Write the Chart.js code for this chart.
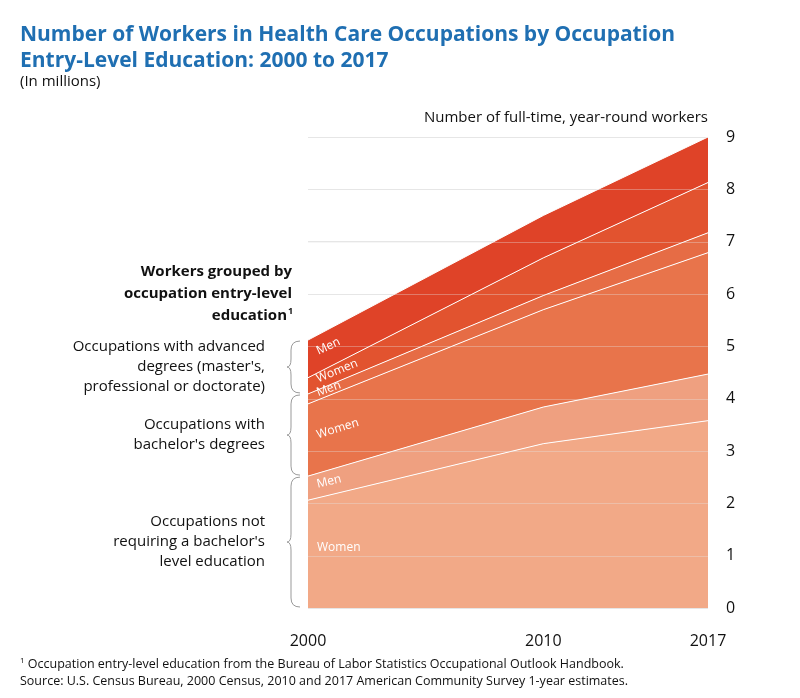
<!DOCTYPE html>
<html><head><meta charset="utf-8">
<script src="https://cdn.jsdelivr.net/npm/chart.js@4/dist/chart.umd.min.js"></script>
<style>
body{margin:0;background:#fff;font-family:"Open Sans","Liberation Sans",sans-serif;}
#wrap{position:relative;width:800px;height:698px;}
canvas{position:absolute;left:0;top:0;}
.t{position:absolute;color:#111;white-space:nowrap;}
</style></head><body>
<div id="wrap">
<canvas id="c" width="800" height="698"></canvas>
<div class="t" style="left:20px;top:20px;font-size:21px;font-weight:bold;color:#1f6fb2;line-height:26px;">Number of Workers in Health Care Occupations by Occupation<br>Entry-Level Education: 2000 to 2017</div>
<div class="t" style="left:20px;top:70px;font-size:15px;">(In millions)</div>
<div class="t" style="right:92px;top:106px;font-size:15px;">Number of full-time, year-round workers</div>
<div class="t" style="left:20px;top:651px;font-size:12.5px;line-height:17px;"><sup style="font-size:8px">1</sup> Occupation entry-level education from the Bureau of Labor Statistics Occupational Outlook Handbook.<br>Source: U.S. Census Bureau, 2000 Census, 2010 and 2017 American Community Survey 1-year estimates.</div>
</div>
<script>
const years=[2000,2010,2017];
const nbWomen=[2.06,3.14,3.58];
const nbMen=[0.46,0.70,0.89];
const baWomen=[1.38,1.86,2.32];
const baMen=[0.19,0.27,0.38];
const adWomen=[0.31,0.72,0.96];
const adMen=[0.72,0.81,0.87];
const yTicks=[0,1,2,3,4,5,6,7,8,9];
const series=[
 {k:'nbW',d:nbWomen,c:'#f2a987',l:'Women'},
 {k:'nbM',d:nbMen,c:'#efa080',l:'Men'},
 {k:'baW',d:baWomen,c:'#e8744b',l:'Women'},
 {k:'baM',d:baMen,c:'#e66c45',l:'Men'},
 {k:'adW',d:adWomen,c:'#e2532f',l:'Women'},
 {k:'adM',d:adMen,c:'#df4328',l:'Men'}];
const datasets=series.map((s,i)=>({label:s.k,data:s.d.map((v,j)=>({x:years[j],y:v})),backgroundColor:s.c,borderColor:'#fff',borderWidth:1,fill:i===0?'origin':'-1',pointRadius:0,tension:0}));
function cum(i,j){let t=0;for(let k=0;k<=i;k++)t+=series[k].d[j];return t;}
const deco={id:'deco',afterDatasetsDraw(ch){
 const c=ch.ctx,x=ch.scales.x,y=ch.scales.y;
 // gridlines over
 c.save();c.strokeStyle='rgba(230,230,230,0.35)';c.lineWidth=1;
 yTicks.forEach(v=>{const py=Math.round(y.getPixelForValue(v))+0.5;c.beginPath();c.moveTo(ch.chartArea.left,py);c.lineTo(ch.chartArea.right,py);c.stroke();});
 // labels in bands
 c.fillStyle='#fff';c.font='12px "Open Sans",sans-serif';c.textBaseline='middle';
 const xl=x.getPixelForValue(2000)+9;
 series.forEach((s,i)=>{
  const lo=i?cum(i-1,0):0,hi=cum(i,0);
  const lo1=i?cum(i-1,1):0,hi1=cum(i,1);
  const f=0.06;const mid=((lo+hi)/2)*(1-f)+((lo1+hi1)/2)*f;
  let py=y.getPixelForValue(mid);
  if(i===0)py=548;
  const slope=(y.getPixelForValue((lo1+hi1)/2)-y.getPixelForValue((lo+hi)/2))/(x.getPixelForValue(2010)-x.getPixelForValue(2000));
  c.save();c.translate(xl,py);c.rotate(i===0?0:Math.atan(slope)*0.9);c.fillText(s.l,0,0);c.restore();
 });
 // left annotations
 c.fillStyle='#111';c.textAlign='right';c.textBaseline='middle';
 c.font='bold 15px "Open Sans",sans-serif';
 [['Workers grouped by',272],['occupation entry-level',294],['education',316]].forEach(a=>c.fillText(a[0],a[0]==='education'?287:292,a[1]));
 c.font='bold 9px "Open Sans",sans-serif';c.textAlign='left';c.fillText('1',288,311);
 c.textAlign='right';c.font='15px "Open Sans",sans-serif';
 const groups=[[[ 'Occupations with advanced','degrees (master\'s,','professional or doctorate)'],3,5],[['Occupations with','bachelor\'s degrees'],1,3],[['Occupations not','requiring a bachelor\'s','level education'],-1,1]];
 groups.forEach(g=>{
  const top=y.getPixelForValue(cum(g[2],0)),bot=y.getPixelForValue(g[1]<0?0:cum(g[1],0));
  const m=(top+bot)/2;const n=g[0].length;
  g[0].forEach((t,k)=>c.fillText(t,265,m+(k-(n-1)/2)*20));
  // brace
  const bx=300,tip=287;c.strokeStyle='#999';c.lineWidth=1;c.beginPath();
  c.moveTo(bx,top+1);c.quadraticCurveTo(bx-9,top+1,bx-9,top+10);
  c.lineTo(bx-9,m-8);c.quadraticCurveTo(bx-9,m,tip,m);
  c.quadraticCurveTo(bx-9,m,bx-9,m+8);c.lineTo(bx-9,bot-10);
  c.quadraticCurveTo(bx-9,bot-1,bx,bot-1);c.stroke();
 });
 c.restore();
}};
new Chart(document.getElementById('c'),{type:'line',data:{datasets},plugins:[deco],
options:{responsive:false,animation:false,
layout:{padding:{left:308,top:137,right:0,bottom:0}},
plugins:{legend:{display:false},tooltip:{enabled:false}},
scales:{
 x:{type:'linear',min:2000,max:2017,afterBuildTicks:s=>{s.ticks=years.map(v=>({value:v}));},
  afterFit:s=>{s.height=90;},grid:{display:false},border:{display:false},
  ticks:{color:'#111',font:{size:16,family:'"Open Sans",sans-serif'},padding:16,maxRotation:0,callback:v=>String(v)}},
 y:{position:'right',stacked:true,min:0,max:9,afterBuildTicks:s=>{s.ticks=yTicks.map(v=>({value:v}));},
  afterFit:s=>{s.width=92;},grid:{display:true,color:'#e6e6e6',drawTicks:false},border:{display:false},
  ticks:{color:'#111',font:{size:16,family:'"Open Sans",sans-serif'},padding:18}}
}}});
</script></body></html>
